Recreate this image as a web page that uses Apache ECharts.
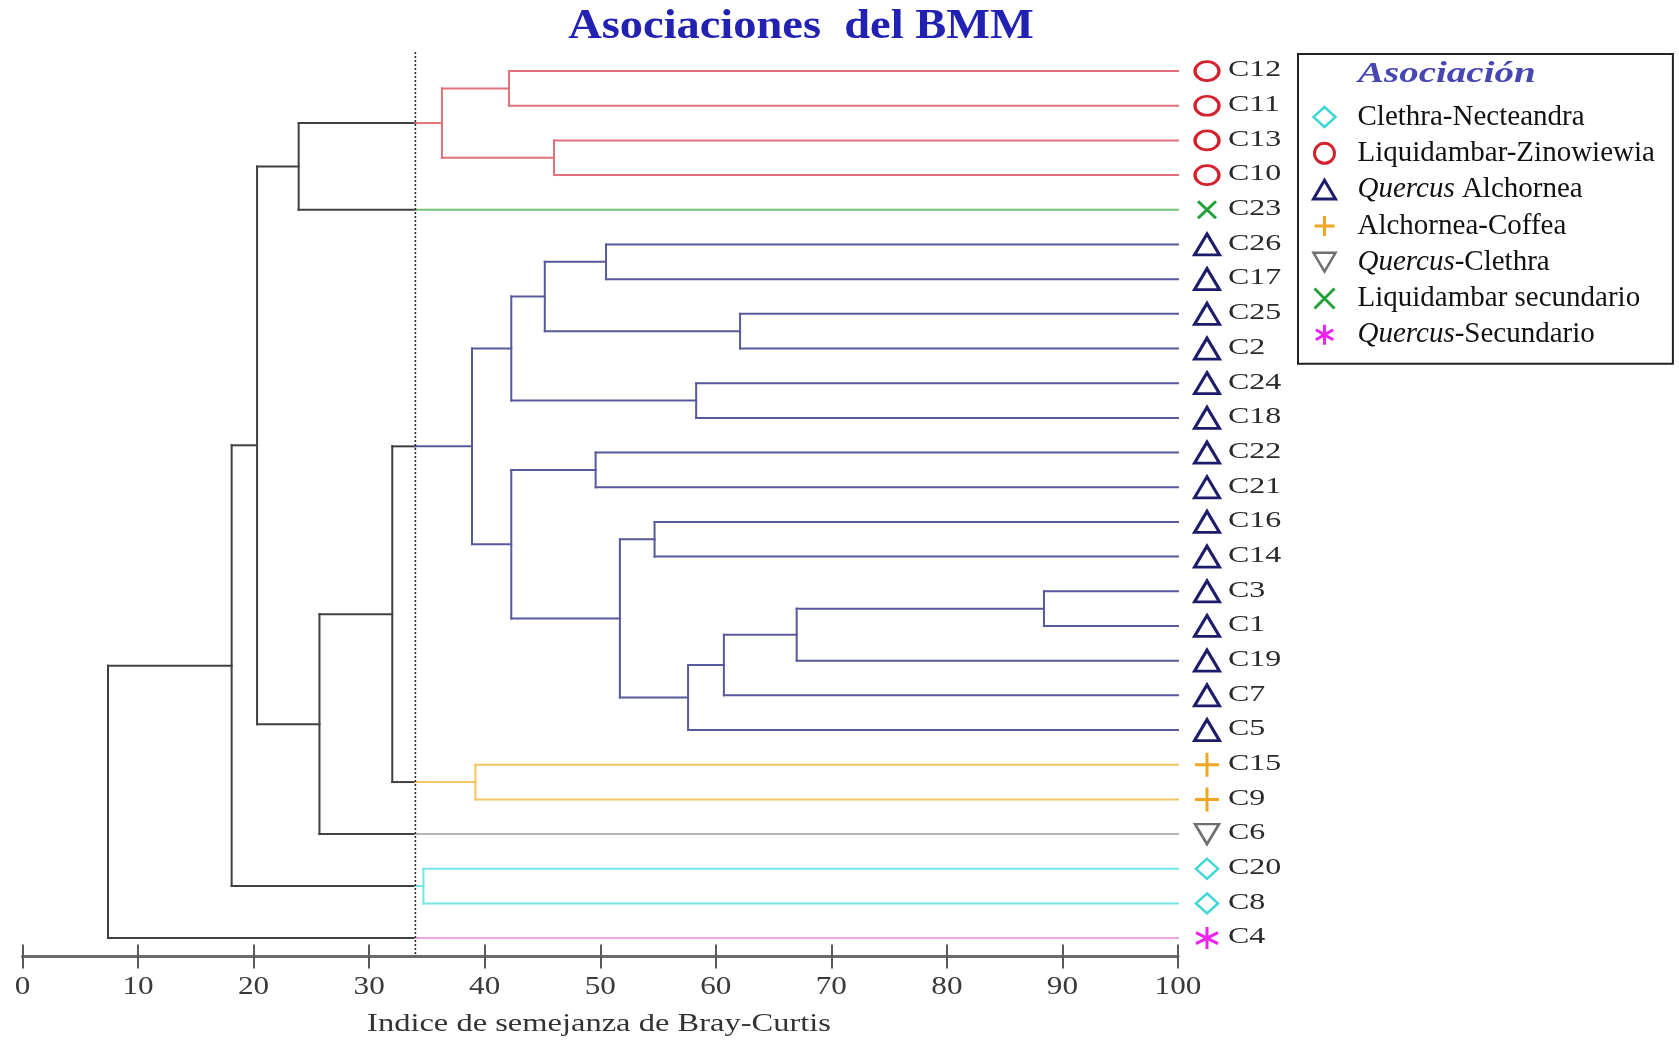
<!DOCTYPE html>
<html>
<head>
<meta charset="utf-8">
<script src="https://cdn.jsdelivr.net/npm/echarts@6/dist/echarts.min.js"></script>
<style>
  html, body { margin: 0; padding: 0; background: #ffffff; }
  #chart { width: 1679px; height: 1042px; }
</style>
</head>
<body>
<div id="chart"></div>
<script>
// Sampling sites, top to bottom
const leaves = ['C12','C11','C13','C10','C23','C26','C17','C25','C2','C24','C18','C22','C21',
                'C16','C14','C3','C1','C19','C7','C5','C15','C9','C6','C20','C8','C4'];

// Association of each site
const leafGroup = ['Liquidambar-Zinowiewia','Liquidambar-Zinowiewia','Liquidambar-Zinowiewia','Liquidambar-Zinowiewia',
  'Liquidambar secundario',
  'Quercus Alchornea','Quercus Alchornea','Quercus Alchornea','Quercus Alchornea','Quercus Alchornea',
  'Quercus Alchornea','Quercus Alchornea','Quercus Alchornea','Quercus Alchornea','Quercus Alchornea',
  'Quercus Alchornea','Quercus Alchornea','Quercus Alchornea','Quercus Alchornea','Quercus Alchornea',
  'Alchornea-Coffea','Alchornea-Coffea','Quercus-Clethra','Clethra-Necteandra','Clethra-Necteandra',
  'Quercus-Secundario'];

// Legend order
const groups = ['Clethra-Necteandra','Liquidambar-Zinowiewia','Quercus Alchornea','Alchornea-Coffea',
                'Quercus-Clethra','Liquidambar secundario','Quercus-Secundario'];

// Agglomeration steps: node n<i> joins mergeA[i] and mergeB[i] at mergeSim[i] (% Bray-Curtis)
const mergeA = ['C12','C13','n0','n2','C26','C25','n4','C24','n6','C22','C16','C3','n11','n12','n13',
                'n10','n9','n8','C15','n17','n19','n3','C20','n21','n23'];
const mergeB = ['C11','C10','n1','C23','C17','C2','n5','C18','n7','C21','C14','C1','C19','C7','C5',
                'n14','n15','n16','C9','n18','C6','n20','C8','n22','C4'];
const mergeSim = [42.1, 46.0, 36.3, 23.9, 50.5, 62.1, 45.2, 58.3, 42.3, 49.6, 54.7, 88.4, 67.0, 60.7, 57.6,
                  51.7, 42.3, 38.9, 39.2, 32.0, 25.7, 20.3, 34.7, 18.1, 7.4];

// Similarity level used to define the associations
const cutLevel = 34;

const xTicks = [0, 10, 20, 30, 40, 50, 60, 70, 80, 90, 100];

// ---- styles ----
const serif = '"Liberation Serif", "Times New Roman", serif';
const darkLine = '#404040';
const lineColor = {
  'Clethra-Necteandra': '#74e6e6',
  'Liquidambar-Zinowiewia': '#e2707a',
  'Quercus Alchornea': '#58589c',
  'Alchornea-Coffea': '#f2c462',
  'Quercus-Clethra': '#b4b4b4',
  'Liquidambar secundario': '#76c276',
  'Quercus-Secundario': '#e6a6e6'
};
const markStyle = {
  'Clethra-Necteandra': { symbol: 'diamond', size: [22, 20], color: '#3fd6d6', fill: '#ffffff', w: 2.5 },
  'Liquidambar-Zinowiewia': { symbol: 'circle', size: [24, 19], color: '#d3222e', fill: '#ffffff', w: 3 },
  'Quercus Alchornea': { symbol: 'path://M10,0 L20,17 L0,17 Z', size: [25, 21], color: '#1c1c6a', fill: '#ffffff', w: 3 },
  'Alchornea-Coffea': { symbol: 'path://M10,0 L10,20 M0,10 L20,10', size: [24, 24], color: '#f0a622', fill: 'none', w: 3 },
  'Quercus-Clethra': { symbol: 'path://M0,0 L20,0 L10,17 Z', size: [24, 20], color: '#6e6e6e', fill: '#ffffff', w: 2.5 },
  'Liquidambar secundario': { symbol: 'path://M0,0 L20,20 M0,20 L20,0', size: [18, 17], color: '#23a03a', fill: 'none', w: 3 },
  'Quercus-Secundario': { symbol: 'path://M10,0 L10,20 M1.3,5 L18.7,15 M1.3,15 L18.7,5', size: [22, 22], color: '#ef22ef', fill: 'none', w: 3 }
};

// ---- dendrogram layout built from the agglomeration table ----
const node = {};
leaves.forEach((name, i) => { node[name] = { x: 100, y: i, group: leafGroup[i] }; });
mergeSim.forEach((s, i) => {
  const a = node[mergeA[i]], b = node[mergeB[i]];
  node['n' + i] = { x: s, y: (a.y + b.y) / 2, group: a.group === b.group ? a.group : null, a, b };
});

// segments: [x1, y1, x2, y2, colourIndex]  (-1 = below the cut level)
const segs = [];
const colIdx = g => (g ? groups.indexOf(g) : -1);
mergeSim.forEach((s, i) => {
  const n = node['n' + i];
  segs.push([s, n.a.y, s, n.b.y, s >= cutLevel ? colIdx(n.group) : -1]);
  [n.a, n.b].forEach(c => {
    if (c.x < cutLevel) {
      segs.push([s, c.y, c.x, c.y, -1]);
    } else if (s < cutLevel) {
      segs.push([s, c.y, cutLevel, c.y, -1]);
      segs.push([cutLevel, c.y, c.x, c.y, colIdx(c.group)]);
    } else {
      segs.push([s, c.y, c.x, c.y, colIdx(c.group)]);
    }
  });
});

const chart = echarts.init(document.getElementById('chart'), null, { renderer: 'canvas' });

const yMin = -0.55, yMax = 25.53;
const gridTop = 52, gridHeight = 904.5;

const markerSeries = groups.map(g => {
  const st = markStyle[g];
  return {
    name: g,
    type: 'scatter',
    z: 5,
    symbol: st.symbol,
    symbolSize: st.size,
    symbolOffset: [29, 0],
    itemStyle: { color: st.fill, borderColor: st.color, borderWidth: st.w, opacity: 1 },
    emphasis: { disabled: true },
    data: leaves.map((l, i) => [100, i]).filter((d, i) => leafGroup[i] === g)
  };
});

const tickStyle = { show: true, inside: false, length: 12, lineStyle: { color: '#5a5a5a', width: 2 } };

chart.setOption({
  animation: false,
  backgroundColor: '#ffffff',
  graphic: [
    {
      type: 'text', x: 801, y: 27, scaleX: 1.08, z: 10,
      style: { text: 'Asociaciones  del BMM', font: 'bold 43px ' + serif, fill: '#2222b2',
               align: 'center', verticalAlign: 'middle' }
    },
    {
      type: 'text', x: 1358, y: 74, scaleX: 1.3, z: 10,
      style: { text: 'Asociación', font: 'italic bold 30px ' + serif, fill: '#4747b2',
               align: 'left', verticalAlign: 'middle',
               shadowColor: 'rgba(90,90,200,0.45)', shadowBlur: 3 }
    },
    {
      type: 'text', x: 599, y: 1024, scaleX: 1.3, z: 10,
      style: { text: 'Indice de semejanza de Bray-Curtis', font: '25px ' + serif, fill: '#333333',
               align: 'center', verticalAlign: 'middle' }
    }
  ],
  legend: {
    data: groups.map(g => ({ name: g, itemStyle: { borderWidth: markStyle[g].w, borderColor: markStyle[g].color } })),
    orient: 'vertical',
    left: 1298, top: 54,
    padding: [48, 18, 14, 14],
    itemWidth: 22, itemHeight: 20,
    itemGap: 6.3,
    borderColor: '#222222', borderWidth: 2,
    selectedMode: false,
    formatter: name => name.replace('Quercus', '{i|Quercus}'),
    textStyle: {
      fontFamily: serif, fontSize: 29, color: '#111111', lineHeight: 30, padding: [0, 0, 0, 17],
      rich: { i: { fontFamily: serif, fontSize: 29, fontStyle: 'italic', color: '#111111', lineHeight: 30 } }
    }
  },
  grid: { left: 22.5, right: 501, top: gridTop, height: gridHeight, containLabel: false },
  xAxis: [
    {
      type: 'value', min: 0, max: 100, interval: 10, position: 'bottom',
      splitLine: { show: false },
      axisLine: { show: true, onZero: false, lineStyle: { color: '#6b6b6b', width: 3 } },
      axisTick: tickStyle,
      axisLabel: { show: false }
    },
    {
      // same scale, ticks drawn upward from the bottom axis line
      type: 'value', min: 0, max: 100, interval: 10, position: 'top', offset: -gridHeight,
      splitLine: { show: false },
      axisLine: { show: false, onZero: false },
      axisTick: tickStyle,
      axisLabel: { show: false }
    }
  ],
  yAxis: {
    type: 'value', min: yMin, max: yMax, inverse: true, show: false
  },
  series: [
    {
      name: 'dendrograma',
      type: 'custom',
      z: 2,
      encode: { x: [0, 2], y: [1, 3] },
      data: segs,
      renderItem: (params, api) => {
        const p1 = api.coord([api.value(0), api.value(1)]);
        const p2 = api.coord([api.value(2), api.value(3)]);
        const ci = api.value(4);
        return {
          type: 'line',
          shape: { x1: p1[0], y1: p1[1], x2: p2[0], y2: p2[1] },
          style: { stroke: ci < 0 ? darkLine : lineColor[groups[ci]], lineWidth: 2, lineCap: 'square' }
        };
      }
    },
    {
      name: 'corte',
      type: 'line',
      z: 3,
      symbol: 'none',
      lineStyle: { color: '#2a2a2a', width: 1.6, type: [2, 2] },
      data: [[cutLevel, yMin], [cutLevel, yMax]]
    },
    {
      name: 'etiquetas',
      type: 'custom',
      z: 4,
      encode: { x: 0, y: 1 },
      data: leaves.map((l, i) => [100, i]),
      renderItem: (params, api) => {
        const p = api.coord([api.value(0), api.value(1)]);
        return {
          type: 'text',
          x: p[0] + 50, y: p[1] - 1,
          scaleX: 1.33,
          style: {
            text: leaves[api.value(1)],
            font: '24px ' + serif,
            fill: '#2a2a2a',
            align: 'left', verticalAlign: 'middle'
          }
        };
      }
    },
    {
      name: 'marcas',
      type: 'custom',
      z: 4,
      encode: { x: 0, y: 1 },
      data: xTicks.map(v => [v, yMax]),
      renderItem: (params, api) => {
        const p = api.coord([api.value(0), api.value(1)]);
        return {
          type: 'text',
          x: p[0], y: p[1] + 31,
          scaleX: 1.2,
          style: {
            text: String(api.value(0)),
            font: '26px ' + serif,
            fill: '#3a3a3a',
            align: 'center', verticalAlign: 'middle'
          }
        };
      }
    }
  ].concat(markerSeries)
});
</script>
</body>
</html>
